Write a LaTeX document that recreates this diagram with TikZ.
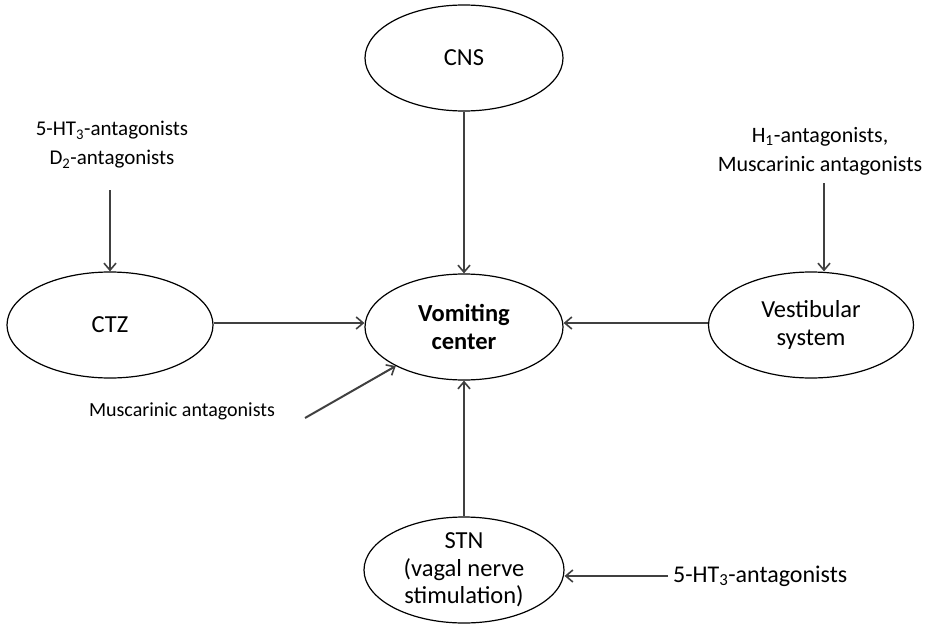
\documentclass[tikz,border=0pt]{standalone}
\usepackage{fontspec}
\setmainfont{Carlito}
\usetikzlibrary{shapes.geometric,arrows.meta}
\tikzset{
  ell/.style={ellipse, draw=black, line width=1.2pt, minimum width=#1, minimum height=106pt, inner sep=0pt, align=center, font=\fontsize{24.5}{27.5}\selectfont},
  ell/.default=198pt,
  lbl/.style={align=center, inner sep=0pt, font=\fontsize{#1}{29}\selectfont},
  lbl/.default=21,
  arr/.style={draw=black!75, line width=2pt, -{Straight Barb[length=7pt,width=12pt,line width=1.6pt]}}
}
\begin{document}
\begin{tikzpicture}[x=1pt,y=-1pt]
\useasboundingbox (0,0) rectangle (925,626);
\node[ell] (cns) at (464,58) {CNS};
\node[ell] (vc) at (464,327) {\bfseries Vomiting\\\bfseries center};
\node[ell=206pt] (ctz) at (110,325) {CTZ};
\node[ell=205pt] (ves) at (811,325) {Vestibular\\system};
\node[ell=200pt] (stn) at (464,570) {STN\\(vagal nerve\\stimulation)};
\node[lbl=21] (l1) at (112,145) {5-HT\textsubscript{3}-antagonists\\D\textsubscript{2}-antagonists};
\node[lbl=22] (l2) at (820,151) {H\textsubscript{1}-antagonists,\\Muscarinic antagonists};
\node[lbl=20] (l3) at (182,411) {Muscarinic antagonists};
\node[lbl=24, anchor=west] (l4) at (673,576) {5-HT\textsubscript{3}-antagonists};
\coordinate (c1) at (110,190);
\coordinate (c2) at (824,183);
\coordinate (c3) at (305,418);
\coordinate (c4) at (668,576);
\draw[arr] (c1) -- (ctz);
\draw[arr] (c2) -- (c2 |- ves.north);
\draw[arr] (cns) -- (vc);
\draw[arr] (ctz.east |- 0,323) -- (vc.west |- 0,323);
\draw[arr] (ves.west |- 0,323) -- (vc.east |- 0,323);
\draw[arr] (c3) -- (vc);
\draw[arr] (stn) -- (vc);
\draw[arr] (c4) -- (c4 -| stn.east);
\end{tikzpicture}
\end{document}
